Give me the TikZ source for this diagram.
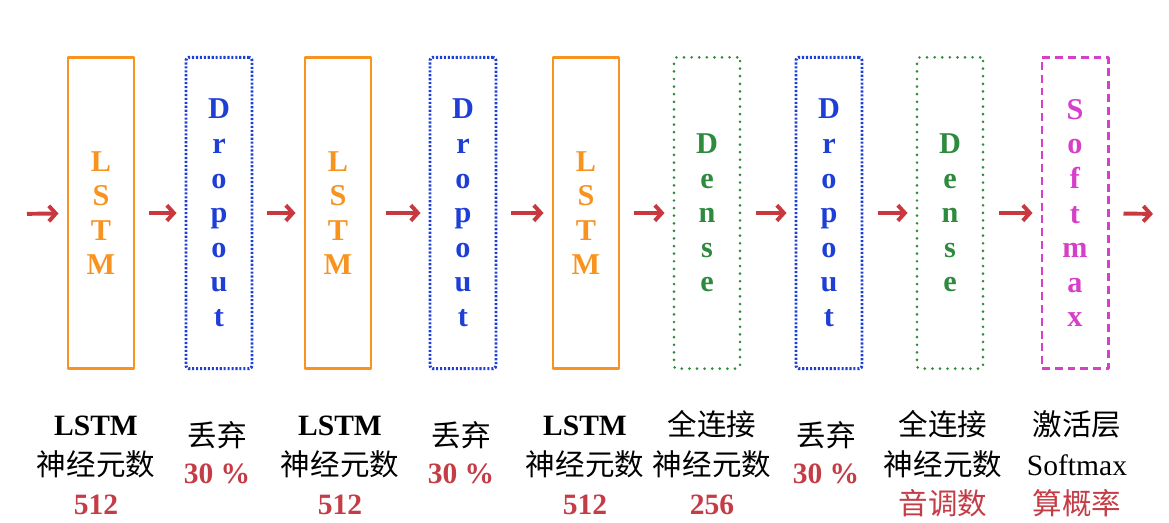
\documentclass[tikz,border=0pt]{standalone}
\usepackage{fontspec}
\setmainfont{Liberation Serif}
\newfontfamily\cjk{Noto Sans CJK SC}
\usetikzlibrary{arrows.meta}
\definecolor{lstmorange}{HTML}{F7931E}
\definecolor{dropblue}{HTML}{1E3FD6}
\definecolor{densegreen}{HTML}{2E8B3E}
\definecolor{softpink}{HTML}{D63FC8}
\definecolor{arrred}{HTML}{C8383E}
\definecolor{numred}{HTML}{C43C45}
\begin{document}
\begin{tikzpicture}[x=0.025cm, y=-0.025cm, line join=round,
	layer/.style={minimum width=1.65cm, minimum height=7.78cm, inner sep=0pt, align=center,
		line width=2.1pt, font=\bfseries\fontsize{21.5}{24.6}\selectfont},
	lstmbox/.style={layer, draw=lstmorange, text=lstmorange},
	dropbox/.style={layer, draw=dropblue, text=dropblue, rounded corners=2pt,
		dash pattern=on 1.5pt off 1.3pt},
	densebox/.style={layer, draw=densegreen, text=densegreen, rounded corners=2pt,
		line cap=round, dash pattern=on 0pt off 5.4pt},
	softbox/.style={layer, draw=softpink, text=softpink, dash pattern=on 5.6pt off 3.5pt},
	arr/.style={draw=arrred, line width=2.8pt, -{Straight Barb[length=5pt,width=11pt]},
		shorten <=0.35cm, shorten >=0.2cm},
	lab/.style={anchor=base, inner sep=0pt, font=\fontsize{21}{25}\selectfont},
	numtext/.style={text=numred}]
	\useasboundingbox (0,0) rectangle (1169,523);
	% layers
	\foreach \n/\x/\s/\t in {l1/101/lstmbox/{L\\S\\T\\M}, d1/219/dropbox/{D\\r\\o\\p\\o\\u\\t},
		l2/338/lstmbox/{L\\S\\T\\M}, d2/463/dropbox/{D\\r\\o\\p\\o\\u\\t},
		l3/586/lstmbox/{L\\S\\T\\M}, e1/707/densebox/{D\\e\\n\\s\\e},
		d3/829/dropbox/{D\\r\\o\\p\\o\\u\\t}, e2/950/densebox/{D\\e\\n\\s\\e},
		s1/1075/softbox/{S\\o\\f\\t\\m\\a\\x}}{
		\node[\s] (\n) at (\x,213) {\t};
	}
	\coordinate (in) at (13,214);
	\coordinate (out) at (1161,214);
	\foreach \a/\b in {in/l1,l1/d1,d1/l2,l2/d2,d2/l3,l3/e1,e1/d3,d3/e2,e2/s1,s1/out}{
		\draw[arr] (\a) -- (\b);
	}
	% labels
	\foreach \n/\x/\a/\b/\c in {c1/96/{\bfseries LSTM}/{\cjk 神经元数}/{\bfseries 512},
		c3/340/{\bfseries LSTM}/{\cjk 神经元数}/{\bfseries 512},
		c5/585/{\bfseries LSTM}/{\cjk 神经元数}/{\bfseries 512},
		c6/712/{\cjk 全连接}/{\cjk 神经元数}/{\bfseries 256},
		c8/943/{\cjk 全连接}/{\cjk 神经元数}/{\cjk 音调数},
		c9/1077/{\cjk 激活层}/{Softmax}/{\cjk 算概率}}{
		\node[lab] (\n-1) at (\x,436) {\a};
		\node[lab] (\n-2) at (\x,475) {\b};
		\node[lab, numtext] (\n-3) at (\x,514) {\c};
	}
	\foreach \n/\x in {c2/217, c4/461, c7/826}{
		\node[lab] (\n-1) at (\x,447) {\cjk 丢弃};
		\node[lab, numtext] (\n-2) at (\x,483) {\bfseries 30 \%};
	}
\end{tikzpicture}
\end{document}
